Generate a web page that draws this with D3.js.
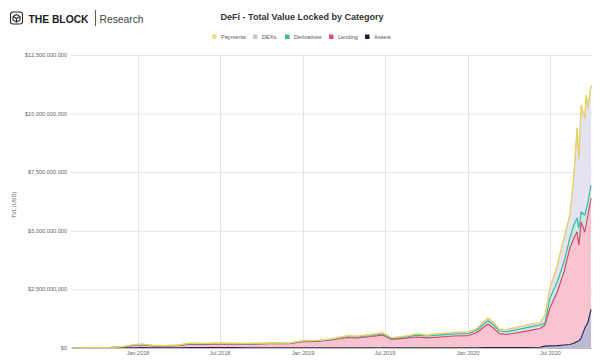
<!DOCTYPE html>
<html>
<head>
<meta charset="utf-8">
<script src="https://cdn.jsdelivr.net/npm/d3@7"></script>
<style>
  html, body { margin: 0; padding: 0; background: #fff; }
  svg { display: block; font-family: "Liberation Sans", Arial, sans-serif; }
</style>
</head>
<body>
<svg id="chart" width="600" height="362"></svg>
<script>
// ---- DATA (values in USD millions) ----
const dates = ["2017-08-08","2017-09-01","2017-10-01","2017-11-01","2017-12-01","2017-12-20","2018-01-10","2018-02-01","2018-03-01","2018-04-01","2018-04-25","2018-06-01","2018-07-01","2018-08-01","2018-09-01","2018-10-01","2018-11-01","2018-12-01","2019-01-01","2019-02-01","2019-03-01","2019-04-10","2019-05-01","2019-06-01","2019-06-26","2019-07-15","2019-08-10","2019-09-10","2019-10-01","2019-11-01","2019-12-01","2020-01-01","2020-01-20","2020-02-05","2020-02-14","2020-02-25","2020-03-10","2020-03-25","2020-04-15","2020-05-10","2020-06-08","2020-06-19","2020-06-30","2020-07-16","2020-07-31","2020-08-13","2020-08-22","2020-08-29","2020-09-02","2020-09-07","2020-09-15","2020-09-18","2020-09-22","2020-09-29"];
const assets      = [0,1,2,3,5,10,15,10,8,10,15,15,15,15,10,10,10,10,10,10,10,10,10,10,10,10,10,10,10,10,10,10,10,15,15,15,15,15,20,20,30,80,90,100,130,150,200,280,300,420,850,950,1100,1650];
const lending     = [2,5,10,20,50,90,110,80,70,90,150,140,160,150,150,160,180,170,260,270,320,440,420,480,540,360,400,460,420,460,500,520,640,880,1000,850,600,560,620,700,800,901,1616,2289,3112,4116,4493,4669,4094,4955,4099,4297,4574,4749];
const derivatives = [0,1,2,3,5,15,20,15,10,15,20,20,20,15,15,15,15,15,20,20,25,40,40,40,50,40,40,80,80,90,90,90,100,130,150,140,110,120,130,150,150,86,427,427,427,427,554,597,725,427,725,640,554,555];
const dexs        = [1,2,3,5,10,20,25,15,12,15,20,20,20,20,20,20,20,15,20,20,25,30,30,40,40,30,30,50,40,50,60,60,70,90,100,90,70,80,90,100,80,316,402,700,999,956,2108,3814,2961,4539,4113,4881,4010,4241];
const payments    = [0,0,0,0,1,2,3,3,3,4,5,5,5,5,5,5,5,5,5,6,6,8,8,10,10,8,8,10,10,10,10,10,12,15,15,15,12,12,15,15,15,25,25,25,25,25,25,25,25,25,25,25,25,25];

const categories = ["Payments","DEXs","Derivatives","Lending","Assets"]; // legend order
const yTicks = [0, 2500, 5000, 7500, 10000, 12500];
const xTickDates = ["2018-01-01","2018-07-01","2019-01-01","2019-07-01","2020-01-01","2020-07-01"];
const xTickLabels = ["Jan 2018","Jul 2018","Jan 2019","Jul 2019","Jan 2020","Jul 2020"];

// ---- styles ----
const lineColor = {Payments:"#e9d44c", DEXs:"#c9c6de", Derivatives:"#33b5a0", Lending:"#dc3e62", Assets:"#27234f"};
const fillColor = {Payments:"#f8f0b8", DEXs:"#e5e3f1", Derivatives:"#c3ece3", Lending:"#f8c4d0", Assets:"#bcbad2"};
const legendColor = {Payments:"#efe07e", DEXs:"#c8c6dc", Derivatives:"#3db8a2", Lending:"#e0506e", Assets:"#1f1d45"};

const parse = d3.timeParse("%Y-%m-%d");
const series = {Assets:assets, Lending:lending, Derivatives:derivatives, DEXs:dexs, Payments:payments};
const stackKeys = ["Assets","Lending","Derivatives","DEXs","Payments"];
const rows = dates.map((d,i) => {
  const r = {date: parse(d)};
  stackKeys.forEach(k => r[k] = series[k][i]);
  return r;
});

const svg = d3.select("#chart");
svg.append("rect").attr("width",600).attr("height",362).attr("fill","#fff");

const pL = 72, pR = 592, pT = 55, pB = 348;
const x = d3.scaleTime().domain([parse("2017-08-08"), parse("2020-10-01")]).range([pL, pR]);
const y = d3.scaleLinear().domain([0, 12500]).range([pB, pT]);

// grid
const grid = svg.append("g");
grid.selectAll("line.h").data(yTicks).join("line")
  .attr("x1", pL-1).attr("x2", pR).attr("y1", d=>y(d)+0.5).attr("y2", d=>y(d)+0.5)
  .attr("stroke", "#e4e4e4").attr("stroke-width", 1);
grid.selectAll("line.v").data(xTickDates).join("line")
  .attr("x1", d=>Math.round(x(parse(d)))+0.5).attr("x2", d=>Math.round(x(parse(d)))+0.5)
  .attr("y1", pT).attr("y2", pB)
  .attr("stroke", "#e4e4e4").attr("stroke-width", 1);

// y labels
svg.append("g").selectAll("text").data(yTicks).join("text")
  .attr("x", 67).attr("y", d=>y(d)).attr("dy","0.35em")
  .attr("text-anchor","end").attr("font-size","5.6px").attr("fill","#666")
  .text(d => d === 0 ? "$0" : "$" + d3.format(",")(d*1e6));

// x labels
svg.append("g").selectAll("text").data(xTickDates).join("text")
  .attr("x", d=>x(parse(d))).attr("y", 353).attr("dy","0.35em")
  .attr("text-anchor","middle").attr("font-size","5.5px").attr("fill","#666")
  .text((d,i)=>xTickLabels[i]);

// y title
svg.append("text").attr("transform","translate(16,205) rotate(-90)")
  .attr("text-anchor","middle").attr("font-size","5.5px").attr("fill","#666").text("TVL (USD)");

// stacked areas
const stacked = d3.stack().keys(stackKeys)(rows);
const area = d3.area().x(d=>x(d.data.date)).y0(d=>y(d[0])).y1(d=>y(d[1]));
const topLine = d3.line().x(d=>x(d.data.date)).y(d=>y(d[1]));
const g = svg.append("g");
g.selectAll("path.area").data(stacked).join("path")
  .attr("d", area).attr("fill", d=>fillColor[d.key]).attr("stroke","none");
g.selectAll("path.line").data(stacked).join("path")
  .attr("d", topLine).attr("fill","none").attr("stroke", d=>lineColor[d.key])
  .attr("stroke-width", 1.1).attr("stroke-linejoin","round");

// baseline
svg.append("line").attr("x1",pL).attr("x2",pR).attr("y1",pB+0.5).attr("y2",pB+0.5)
  .attr("stroke","#bdbdbd").attr("stroke-width",1);

// title
svg.append("text").attr("x", 302).attr("y", 19.5).attr("text-anchor","middle")
  .attr("font-size","9px").attr("font-weight","bold").attr("fill","#333")
  .text("DeFi - Total Value Locked by Category");

// legend
const legendX = [212, 253, 285, 329, 365];
const lg = svg.append("g");
categories.forEach((c,i) => {
  lg.append("rect").attr("x", legendX[i]).attr("y", 34.5).attr("width", 4.5).attr("height", 4.5)
    .attr("fill", legendColor[c]);
  lg.append("text").attr("x", legendX[i]+9).attr("y", 36.8).attr("dy","0.35em")
    .attr("font-size","5.6px").attr("fill","#555").text(c);
});

// logo
const logo = svg.append("g").attr("fill","none").attr("stroke","#2b2b2b").attr("stroke-width",1.1);
logo.append("rect").attr("x",10.5).attr("y",12).attr("width",12).attr("height",12).attr("rx",2.5);
logo.append("path").attr("d","M16.5,14.5 L20,16.5 L20,20 L16.5,22 L13,20 L13,16.5 Z M13,16.5 L16.5,18.5 L20,16.5 M16.5,18.5 L16.5,22");
svg.append("text").attr("x", 28.5).attr("y", 22.5).attr("font-size","11.5px").attr("font-weight","bold")
  .attr("fill","#222").attr("textLength",60).attr("lengthAdjust","spacingAndGlyphs").text("THE BLOCK");
svg.append("line").attr("x1",95.5).attr("x2",95.5).attr("y1",10).attr("y2",26).attr("stroke","#333").attr("stroke-width",0.8);
svg.append("text").attr("x", 99.5).attr("y", 22.5).attr("font-size","11px")
  .attr("fill","#444").attr("textLength",44).attr("lengthAdjust","spacingAndGlyphs").text("Research");
</script>
</body>
</html>
